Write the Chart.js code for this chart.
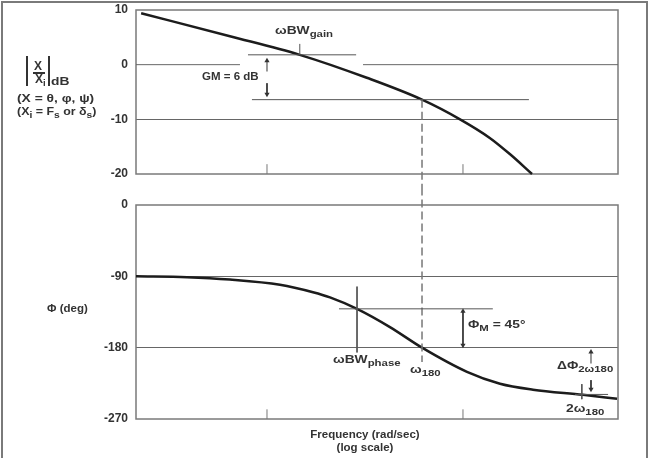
<!DOCTYPE html>
<html>
<head>
<meta charset="utf-8">
<script src="https://cdn.jsdelivr.net/npm/chart.js@4.4.0/dist/chart.umd.min.js"></script>
<style>
  html, body { margin: 0; padding: 0; background: #fff; }
  #page { position: relative; width: 649px; height: 458px; overflow: hidden; }
  #outer { position: absolute; left: 1px; top: 1px; width: 647px; height: 480px; border: 2px solid #7a7a7a; box-sizing: border-box; }
  canvas { position: absolute; left: 0; }
  #gainCanvas { top: 0; }
  #phaseCanvas { top: 190px; }
  .lbl { position: absolute; font: bold 11.5px "Liberation Sans", Arial, sans-serif; color: #333; white-space: nowrap; line-height: 1; }
  .lbl sub { font-size: 9.5px; vertical-align: -3px; line-height: 0; }
  .wide { transform: scaleX(1.2); transform-origin: 0 0; }
  .bar { position: absolute; background: #333; }
</style>
</head>
<body>
<div id="page">
  <div id="outer"></div>
  <canvas id="gainCanvas" width="649" height="190"></canvas>
  <canvas id="phaseCanvas" width="649" height="268"></canvas>

  <!-- left axis titles -->
  <div class="bar" style="left:26px;top:56px;width:2px;height:30px"></div>
  <div class="bar" style="left:48px;top:56px;width:2px;height:30px"></div>
  <div class="bar" style="left:33px;top:72px;width:12px;height:1.5px"></div>
  <div class="lbl" style="left:34px;top:60px;font-size:12px">X</div>
  <div class="lbl" style="left:35px;top:73px;font-size:12px">X<sub>i</sub></div>
  <div class="lbl wide" style="left:51px;top:76px">dB</div>
  <div class="lbl wide" style="left:17px;top:93px">(X = θ, φ, ψ)</div>
  <div class="lbl" style="left:17px;top:106px;transform:scaleX(1.08);transform-origin:0 0">(X<sub>i</sub> = F<sub>s</sub> or δ<sub>s</sub>)</div>
  <div class="lbl" style="left:47px;top:303px">Φ (deg)</div>

  <!-- x axis title -->
  <div class="lbl" style="left:0;width:730px;text-align:center;top:429px">Frequency (rad/sec)</div>
  <div class="lbl" style="left:0;width:730px;text-align:center;top:442px">(log scale)</div>

  <!-- annotations -->
  <div class="lbl" style="left:202px;top:71px">GM = 6 dB</div>
  <div class="lbl wide" style="left:275px;top:25px">ωBW<sub>gain</sub></div>
  <div class="lbl wide" style="left:333px;top:354px">ωBW<sub>phase</sub></div>
  <div class="lbl wide" style="left:410px;top:364px">ω<sub>180</sub></div>
  <div class="lbl wide" style="left:468px;top:319px">Φ<sub>M</sub> = 45°</div>
  <div class="lbl wide" style="left:557px;top:360px">ΔΦ<sub>2ω180</sub></div>
  <div class="lbl wide" style="left:566px;top:403px">2ω<sub>180</sub></div>
</div>

<script>
// Frequency axis (rad/sec, log) - no tick labels, only two inner ticks
const freqMin = 0.2146;
const freqMax = 61.8;
const freqTicks = [1, 10];

// Gain curve
const gainFreq = [0.228, 0.647, 1.47, 3.23, 6.18, 9.66, 13.7, 17.4, 22.5];
const gainDb = [9.4, 5.2, 1.8, -2.4, -6.4, -10.0, -13.4, -16.4, -20];

// Phase curve
const phaseFreq = [0.2146, 0.391, 0.647, 1.165, 1.717, 2.096, 2.88, 4.24, 6.18, 10.48, 15.45, 22.76, 40.9, 61.1];
const phaseDeg = [-90, -91, -94, -100.6, -110, -116.5, -131, -154, -180, -210.5, -225.5, -233, -239.5, -244.5];

// Gain plot reference marks
const zeroLeftFreq = [0.2146, 0.728];
const zeroRightFreq = [3.09, 61.8];
const bwGainLineFreq = [0.80, 2.85];
const bwGainLevel = 1.8;
const bwGainFreq = 1.47;
const bwGainTickDb = [1.8, 3.8];
const gmLineFreq = [0.838, 21.7];
const gmLevel = -6.4;
const gmArrowFreq = 1.0;
const gmArrowUpDb = [-1.25, 0.7];
const gmArrowDownDb = [-3.4, -5.4];
const w180Freq = 6.18;
const w180GainDb = [-6.4, -24];
const gainTickDb = [-20, -18.2];

// Phase plot reference marks
const pmLineFreq = [2.33, 14.2];
const pmLevel = -131;
const bwPhaseFreq = 2.88;
const bwPhaseDeg = [-103, -186];
const pmArrowFreq = 10.0;
const pmArrowDeg = [-134, -177];
const w180PhaseDeg = [22, -198];
const dPhiFreq = 45;
const dPhiUpDeg = [-200, -185.5];
const dPhiDownDeg = [-221, -232.6];
const twoW180LineFreq = [37.3, 55];
const twoW180Level = -239;
const twoW180Freq = 40.4;
const twoW180TickDeg = [-226, -245];
const phaseTickDeg = [-270, -257.8];

function pts(xs, ys) {
    return xs.map((x, i) => ({ x: x, y: ys[i] }));
}

function line(data, extra) {
    return Object.assign({
        data: data,
        borderColor: '#555',
        borderWidth: 1,
        pointRadius: 0,
        tension: 0,
        clip: false
    }, extra || {});
}

function arrow(freq, ys, rotations) {
    return line(pts([freq, freq], ys), {
        borderColor: '#333',
        pointRadius: rotations.map(r => (r === null ? 0 : 3)),
        pointRotation: rotations.map(r => r || 0),
        pointStyle: 'triangle',
        pointBackgroundColor: '#333',
        pointBorderWidth: 0
    });
}

const curveStyle = {
    borderColor: '#1c1c1c',
    borderWidth: 2.5,
    pointRadius: 0,
    cubicInterpolationMode: 'monotone',
    clip: false
};

const dashStyle = { borderColor: '#777', borderWidth: 1.5, borderDash: [8, 4] };

const framePlugin = {
    id: 'frame',
    beforeDatasetsDraw(chart) {
        const { ctx, chartArea: a } = chart;
        ctx.save();
        ctx.strokeStyle = '#7a7a7a';
        ctx.lineWidth = 1.5;
        ctx.strokeRect(a.left, a.top, a.right - a.left, a.bottom - a.top);
        ctx.restore();
    }
};

function makeOptions(yMin, yMax, step, gridValues, padTop, padBottom) {
    return {
        responsive: false,
        animation: false,
        events: [],
        layout: { padding: { left: 0, right: 31, top: padTop, bottom: padBottom } },
        plugins: { legend: { display: false }, tooltip: { enabled: false } },
        scales: {
            x: { type: 'logarithmic', min: freqMin, max: freqMax, display: false },
            y: {
                min: yMin,
                max: yMax,
                border: { display: false },
                grid: {
                    drawTicks: false,
                    lineWidth: 1,
                    color: ctx => (ctx.tick && gridValues.includes(ctx.tick.value) ? '#666' : 'rgba(0,0,0,0)')
                },
                ticks: {
                    stepSize: step,
                    padding: 8,
                    color: '#333',
                    font: { family: '"Liberation Sans", Arial, sans-serif', size: 12, weight: 'bold' }
                },
                afterFit(scale) {
                    scale.width = 136;
                    scale.paddingTop = 4;
                    scale.paddingBottom = 4;
                }
            }
        }
    };
}

// Gain plot
new Chart(document.getElementById('gainCanvas'), {
    type: 'line',
    data: {
        datasets: [
            line(pts(zeroLeftFreq, [0, 0]), { borderColor: '#666' }),
            line(pts(zeroRightFreq, [0, 0]), { borderColor: '#666' }),
            line(pts(bwGainLineFreq, [bwGainLevel, bwGainLevel])),
            line(pts([bwGainFreq, bwGainFreq], bwGainTickDb)),
            line(pts(gmLineFreq, [gmLevel, gmLevel])),
            arrow(gmArrowFreq, gmArrowUpDb, [null, 0]),
            arrow(gmArrowFreq, gmArrowDownDb, [null, 180]),
            line(pts([w180Freq, w180Freq], w180GainDb), dashStyle),
            line(pts([freqTicks[0], freqTicks[0]], gainTickDb), { borderColor: '#777' }),
            line(pts([freqTicks[1], freqTicks[1]], gainTickDb), { borderColor: '#777' }),
            Object.assign({ data: pts(gainFreq, gainDb) }, curveStyle)
        ]
    },
    options: makeOptions(-20, 10, 10, [-10], 10, 16),
    plugins: [framePlugin]
});

// Phase plot
new Chart(document.getElementById('phaseCanvas'), {
    type: 'line',
    data: {
        datasets: [
            line(pts(pmLineFreq, [pmLevel, pmLevel])),
            line(pts([bwPhaseFreq, bwPhaseFreq], bwPhaseDeg)),
            arrow(pmArrowFreq, pmArrowDeg, [0, 180]),
            line(pts([w180Freq, w180Freq], w180PhaseDeg), dashStyle),
            arrow(dPhiFreq, dPhiUpDeg, [null, 0]),
            arrow(dPhiFreq, dPhiDownDeg, [null, 180]),
            line(pts(twoW180LineFreq, [twoW180Level, twoW180Level])),
            line(pts([twoW180Freq, twoW180Freq], twoW180TickDeg)),
            line(pts([freqTicks[0], freqTicks[0]], phaseTickDeg), { borderColor: '#777' }),
            line(pts([freqTicks[1], freqTicks[1]], phaseTickDeg), { borderColor: '#777' }),
            Object.assign({ data: pts(phaseFreq, phaseDeg) }, curveStyle)
        ]
    },
    options: makeOptions(-270, 0, 90, [-90, -180], 15, 39),
    plugins: [framePlugin]
});
</script>
</body>
</html>
